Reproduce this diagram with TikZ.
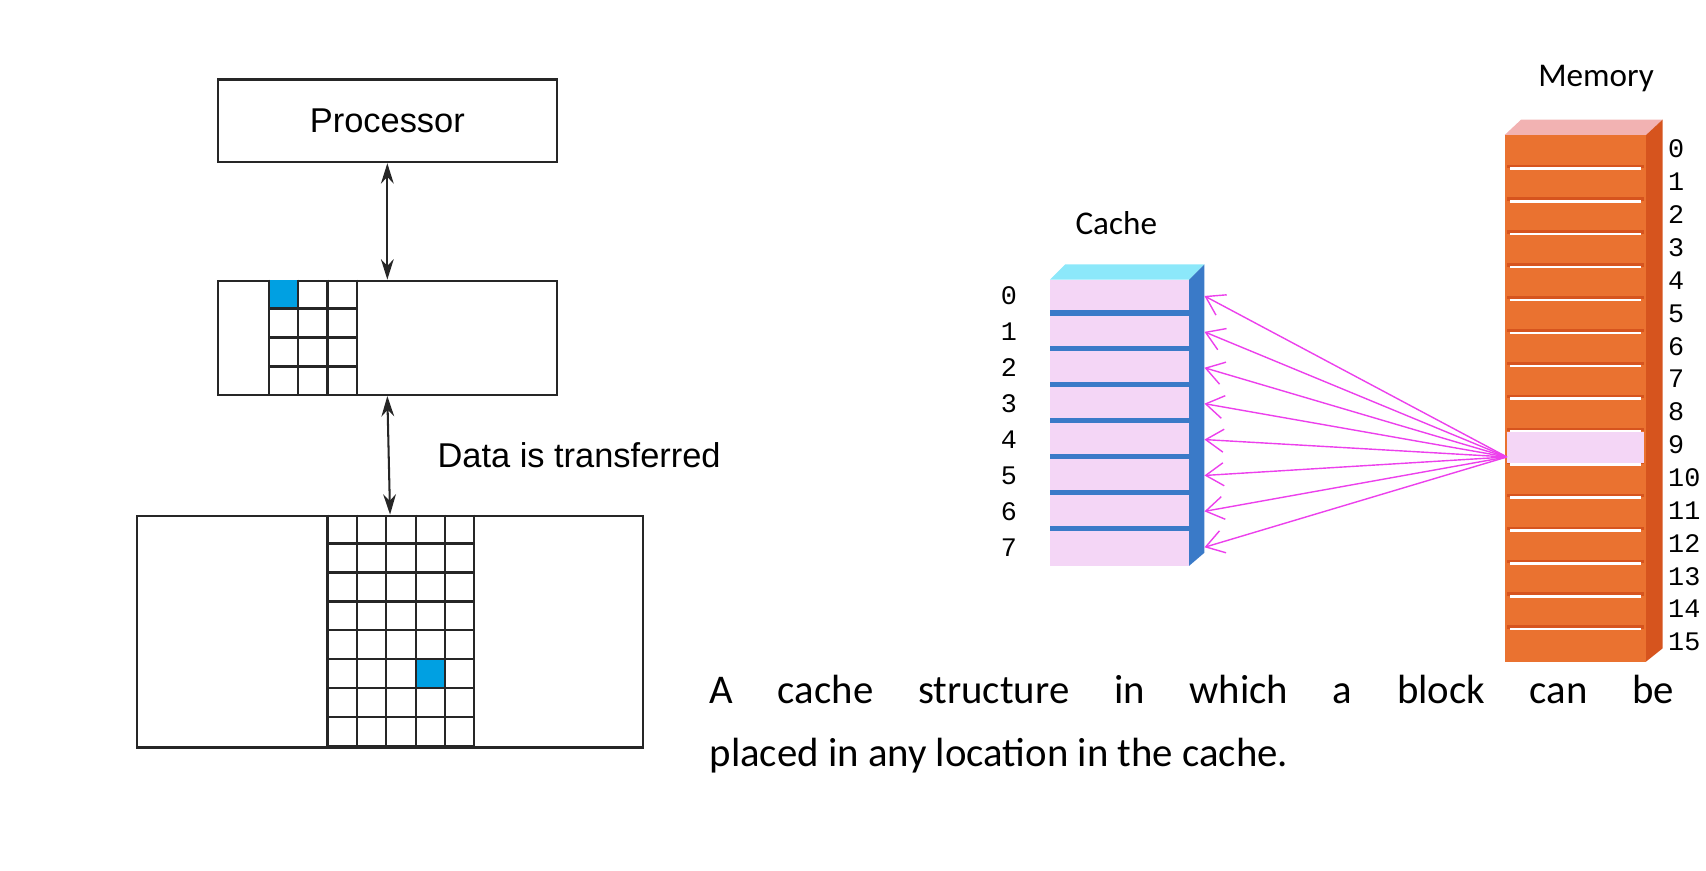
\documentclass[tikz,border=0pt]{standalone}
\usepackage{fontspec}
\setmainfont{Liberation Sans}
\newfontfamily\calib{Carlito}
\newfontfamily\digits{Liberation Mono}
\usetikzlibrary{arrows.meta,positioning}
\definecolor{cachepink}{RGB}{244,214,246}
\definecolor{cacheblue}{RGB}{58,122,200}
\definecolor{cachetop}{RGB}{140,232,250}
\definecolor{memorange}{RGB}{234,114,48}
\definecolor{memdark}{RGB}{214,84,30}
\definecolor{memtop}{RGB}{242,178,178}
\definecolor{cellblue}{RGB}{0,160,226}
\definecolor{arrmag}{RGB}{236,64,236}
\tikzset{
  box/.style={draw=black!85,line width=1.7pt,inner sep=0pt,anchor=north west},
  grid/.style={draw=black!85,line width=1.7pt},
  link/.style={black!85,line width=1.6pt,{Stealth[length=16pt,width=10pt]}-{Stealth[length=16pt,width=10pt]}},
  fan/.style={arrmag,line width=1.1pt,-{Straight Barb[length=14pt,width=18pt]}},
  lbl/.style={font=\fontsize{27}{30}\selectfont},
  num/.style={font=\digits\fontsize{21}{24}\selectfont,inner sep=0pt}
}
\newcommand{\cellgrid}[5]{% x0, y0, cols, rows, px
  \foreach \i in {0,...,#3} \draw[grid] (#1+#5*\i,#2) -- (#1+#5*\i,#2+#5*#4*0.985);
  \foreach \j in {1,...,#4} \draw[grid] (#1,#2+#5*\j*0.985) -- (#1+#5*#3,#2+#5*\j*0.985);
}
\begin{document}
\begin{tikzpicture}[x=0.03cm,y=-0.03cm]
\useasboundingbox (0,0) rectangle (1568,800);
% left: hierarchy
\node[box,minimum width=9.36cm,minimum height=2.28cm] (proc) at (199,72) {};
\node[lbl] at (proc.center) {Processor};
\node[box,minimum width=9.36cm,minimum height=3.15cm] (cbox) at (199,257) {};
\node[box,minimum width=13.95cm,minimum height=6.39cm] (mbox) at (125,473) {};
\fill[cellblue] (247,257) rectangle (274,284);
\fill[cellblue] (382,606.5) rectangle (409,633);
\cellgrid{247}{257}{3}{4}{27}
\cellgrid{301}{473}{5}{8}{27}
\draw[link] (proc.south) -- (cbox.north);
\draw[link] (cbox.south) -- (mbox.north);
\node[lbl,anchor=west] (xfer) at (398,418) {Data is transferred};
% right: cache
\fill[cachetop] (965,257) -- (979,243) -- (1107,243) -- (1093,257) -- cycle;
\fill[cacheblue] (1093,257) -- (1107,243) -- (1107,508) -- (1093,520) -- cycle;
\fill[cachepink] (965,257) rectangle (1093,520);
\foreach \i in {1,...,7} {
  \fill[cacheblue] (965,257+33*\i-5) rectangle (1093,257+33*\i);
}
\foreach \i in {0,...,7} {
  \node[num,anchor=east] (cl\i) at (935,272+33*\i) {\i};
  \coordinate (c\i) at (1107,272+33*\i);
}
\node[font=\calib\fontsize{26}{28}\selectfont] (cachelbl) at (1026,205) {Cache};
% right: memory
\fill[memtop] (1383,124) -- (1398,110) -- (1528,110) -- (1513,124) -- cycle;
\fill[memdark] (1513,124) -- (1528,110) -- (1528,596) -- (1513,608) -- cycle;
\fill[memorange] (1383,124) rectangle (1513,608);
\foreach \i in {1,...,15} {
  \fill[memdark] (1385,124+30.25*\i-3) rectangle (1511,124+30.25*\i);
  \draw[white,line width=2pt] (1388,124+30.25*\i+0.5) -- (1508,124+30.25*\i+0.5);
}
\fill[cachepink] (1385,124+30.25*9+1) rectangle (1511,124+30.25*10-1);
\foreach \i in {0,...,15} {
  \node[num,anchor=west] (ml\i) at (1533,137+30.2*\i) {\i};
}
\node[font=\calib\fontsize{26}{28}\selectfont] (memlbl) at (1467,72) {Memory};
\coordinate (m9) at (1385,420);
\foreach \i in {0,...,7} \draw[fan] (m9) -- (c\i);
% caption
\node[anchor=north west,inner sep=0pt,text width=26.6cm,align=justify,
  font=\calib\fontsize{32}{50}\selectfont] (caption) at (652,620)
  {A cache structure in which a block can be\linebreak placed in any location in the cache.};
\end{tikzpicture}
\end{document}
